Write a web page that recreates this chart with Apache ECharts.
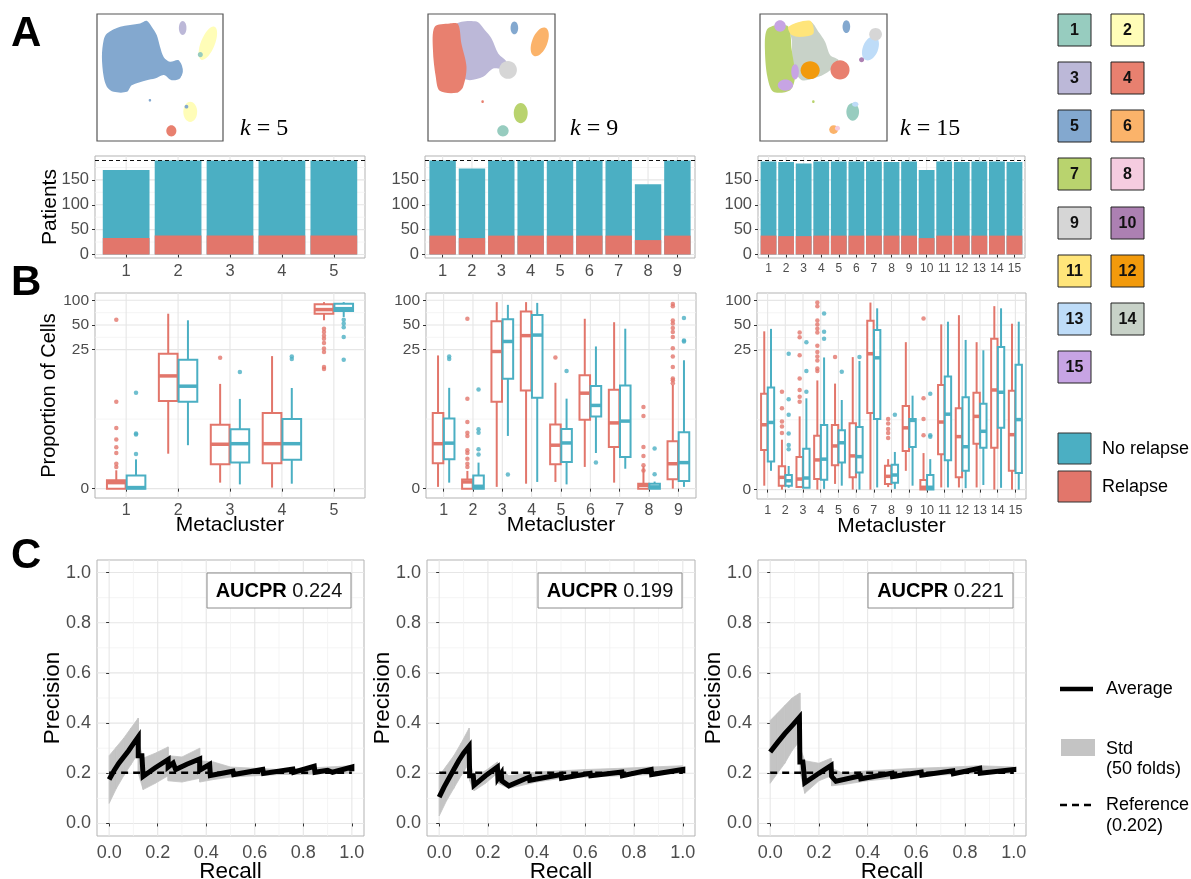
<!DOCTYPE html>
<html>
<head>
<meta charset="utf-8">
<script src="https://cdn.jsdelivr.net/npm/echarts@6/dist/echarts.min.js"></script>
<style>
  html, body { margin: 0; padding: 0; background: #fff; }
  #chart { width: 1191px; height: 879px; }
</style>
</head>
<body>
<div id="chart"></div>
<script>
// ---------- data ----------
const clusterColors = ['#97CCBF', '#FFFDB8', '#BCB8D8', '#E8806F', '#83A8CF', '#FBB36A', '#B9D36E', '#F5CCE0',
  '#D6D6D6', '#AC80B2', '#FFE57A', '#F29A0C', '#BEDCF8', '#C8D2C8', '#C7A4E4'];
const relapseColor = '#E2766B';
const noRelapseColor = '#4BAFC3';
const kValues = [5, 9, 15];
const aucpr = ['0.224', '0.199', '0.221'];
const referencePrecision = 0.202;
const patientsTotal = 189;

// A: patients per metacluster (total bar height and relapse part)
const barsK5Total = [170, 189, 189, 189, 189];
const barsK5Relapse = [33, 38, 38, 38, 38];
const barsK9Total = [189, 173, 189, 189, 189, 189, 189, 141, 189];
const barsK9Relapse = [38, 33, 38, 38, 38, 38, 38, 29, 38];
const barsK15Total = [187, 186, 183, 187, 187, 187, 187, 186, 187, 170, 187, 186, 187, 187, 186];
const barsK15Relapse = [38, 37, 37, 38, 38, 38, 38, 38, 38, 33, 38, 38, 38, 38, 38];

// UMAP thumbnails: outlined regions [cluster, points] and blobs [x, y, rx, ry, rotationDeg, cluster]
const umapK5Regions = [
  [5, [[7.9, 84.7], [18.4, 90], [34.2, 92.6], [39.5, 94.7], [43.4, 90], [47.4, 83.4], [50, 74.2], [53, 66],
    [57.9, 62.4], [64.5, 63.7], [67.9, 57.1], [65.8, 49.2], [59.2, 47.9], [53, 52], [46, 49.2],
    [39.5, 47.9], [27.6, 43.9], [23.7, 38.7], [13.2, 38.7], [7.9, 42.6], [5.3, 50.5], [3.9, 66.3], [5.3, 79.5]]]
];
const umapK5Blobs = [
  [62, 55, 6, 6.5, 0, 5], [68, 89, 3, 5.5, 0, 3], [88, 77, 5.5, 14, -22, 2], [82, 68, 2, 2, 0, 1],
  [74, 23, 5.5, 8, 0, 2], [71, 27, 1.5, 1.5, 0, 5], [59, 8, 4, 4.5, 0, 4], [42, 32, 1, 1, 0, 5]
];
const umapK9Regions = [
  [3, [[22.4, 92], [38.2, 94], [44.7, 87.4], [50, 80.8], [55.3, 68.9], [61.8, 62.4], [59.2, 57.1], [51.3, 57.1],
    [43.4, 50.5], [32.9, 47.9], [26.3, 50.5], [25, 76.8]]],
  [4, [[5.3, 90], [17.1, 92.6], [23.7, 92], [26.3, 76.8], [30.3, 58.4], [27.6, 42.6], [22.4, 37.9], [9.2, 39.5],
    [6.1, 50.5], [3.9, 71.6]]]
];
const umapK9Blobs = [
  [63, 56, 7, 7, 0, 9], [68, 89, 3, 5, 0, 5], [88, 78, 6, 12, -22, 6], [73, 22, 5.5, 8, 0, 7],
  [59, 8, 4.5, 4.5, 0, 1], [43, 31, 1, 1, 0, 4]
];
const umapK15Regions = [
  [14, [[23.7, 90], [39.5, 94], [46, 86], [51.3, 78], [55.3, 67.6], [61.8, 63.7], [55.3, 55.8], [46, 50.5],
    [32.9, 47.9], [26.3, 58.4], [25, 79.5]]],
  [7, [[5.3, 87.4], [13.2, 91.3], [22.4, 90], [25, 71.6], [27.6, 50.5], [23.7, 40], [10.5, 38.7], [5.8, 50.5],
    [3.9, 71.6]]],
  [11, [[22.4, 90], [39.5, 94.7], [42.1, 84.7], [32.9, 82], [25, 83.4]]]
];
const umapK15Blobs = [
  [15.8, 90.5, 4.5, 4.5, 0, 15], [20, 44, 6, 4.5, 0, 15], [27.6, 54.5, 3, 6, 0, 15], [39.5, 55.8, 7.5, 7, 0, 12],
  [63, 56, 7.5, 7.5, 0, 4], [68, 90, 3, 5, 0, 5], [87, 73, 6, 10, -22, 13], [91, 84, 5, 5, 0, 9],
  [80, 64, 2, 2, 0, 10], [73, 23, 5, 7, 0, 1], [75, 29, 2.5, 2, 0, 13], [58, 9, 3.5, 3.5, 0, 6],
  [61, 10, 2, 2, 0, 8], [42, 31, 1, 1, 0, 7]
];

// B: proportion of cells (%), box stats [min, q1, median, q3, max] + outliers
const boxK5Relapse = [[0, 0, 0.17, 0.24, 0.54], [1.15, 5.84, 11.9, 22.3, 68.6], [0.17, 0.74, 1.6, 2.93, 9.5],
  [0.03, 0.78, 1.63, 4.15, 20.8], [57, 68.6, 77, 89.5, 95]];
const outK5Relapse = [[0.65, 0.76, 1.18, 1.45, 1.87, 2.67, 5.7, 57.8], [], [19.9], [],
  [45, 41, 37, 34, 30, 25.7, 23.4, 15.3, 14.5]];
const boxK5NoRelapse = [[0, 0, 0.03, 0.38, 0.92], [1.55, 5.7, 8.9, 18.8, 57], [0.12, 0.8, 1.63, 2.56, 6.2],
  [0.14, 0.91, 1.63, 3.48, 8.45], [62.6, 74, 79, 91, 95]];
const outK5NoRelapse = [[1.14, 2.18, 2.26, 7.4], [], [13.3], [20.6, 19.2], [58, 52, 47, 35.7, 18.8]];

const boxK9Relapse = [[0.05, 0.78, 1.63, 4.15, 21.2], [0, 0, 0.19, 0.26, 0.52], [0.05, 5.7, 23.7, 55.3, 95],
  [0.14, 7.87, 37, 73, 95], [0.19, 0.74, 1.55, 2.96, 9.8], [0.65, 3.4, 7.3, 12.1, 59.5],
  [0.17, 1.46, 3.1, 8.05, 54], [0, 0, 0.094, 0.14, 0.67], [0, 0.27, 0.76, 1.76, 9.2]];
const outK9Relapse = [[], [59.5, 6.25, 3.18, 2.31, 2.09, 1.3, 1.18, 0.94, 0.76, 0.65], [], [], [20], [], [],
  [4.93, 3.8, 1.46, 1.05, 0.71, 0.53], [90, 84.5, 56.7, 52, 46, 41, 35.7, 26, 20.6, 15.3, 11.1, 10.5, 9.7]];
const boxK9NoRelapse = [[0.17, 0.92, 1.66, 3.52, 8.5], [0, 0, 0.066, 0.38, 0.8], [2.09, 11, 31.4, 58.5, 88],
  [0.19, 6.4, 37.6, 66, 93], [0.12, 0.82, 1.67, 2.59, 6.25], [1.18, 3.75, 5.15, 8.95, 27.3],
  [0.59, 1.01, 3.27, 9.1, 45], [0, 0, 0.05, 0.14, 0.2], [0.05, 0.22, 0.8, 2.34, 18.5]];
const outK9NoRelapse = [[20.5, 19.2], [8.1, 2.56, 2.31, 1.35, 1.12], [0.41], [], [13.7], [0.8], [],
  [1.38, 0.42], [61, 32.3, 31.4]];

const boxK15Relapse = [[0.11, 1.35, 2.99, 7.3, 42], [0, 0.11, 0.35, 0.7, 1.9], [0.05, 0.07, 0.3, 1.04, 3.82],
  [0, 0.3, 0.93, 2.15, 10.6], [0.16, 0.74, 1.55, 2.96, 9.7], [0, 0.35, 1.09, 3.12, 20.4],
  [0, 4.2, 22.4, 56.5, 94], [0.07, 0.16, 0.38, 0.72, 0.96], [0.55, 1.3, 2.73, 5.15, 31],
  [0, 0, 0.065, 0.27, 1.21], [0.06, 1.16, 3.24, 9.3, 51], [0.06, 0.35, 2.09, 4.84, 66],
  [0.06, 1.67, 3.82, 7.5, 31], [0, 1.46, 8.1, 34, 85], [0, 0.55, 2.22, 7.9, 52]];
const outK15Relapse = [[], [7.7, 4.84, 3.3, 2.85, 2.34], [40.7, 35.5, 21.5, 11.2, 8.1, 6.7, 5.8],
  [94, 85, 57, 51, 45, 40.7, 28, 23.5, 20.8, 18.6, 14.8, 13.8], [20.4], [], [],
  [3.55, 3.1, 2.64, 2.34, 2.01], [], [60, 6.4, 3.54, 2.18], [], [], [], [], []];
const boxK15NoRelapse = [[0.55, 0.87, 3.2, 8.7, 45], [0.05, 0.11, 0.25, 0.42, 0.71], [0.05, 0.05, 0.33, 1.41, 6.4],
  [0.02, 0.28, 0.96, 2.96, 20.2], [0.11, 0.83, 1.72, 2.53, 6.1], [0, 0.5, 1.06, 2.79, 18.3],
  [0.06, 3.54, 20, 43.7, 80], [0.02, 0.19, 0.42, 0.75, 1.26], [0.11, 1.5, 3.4, 3.54, 6.9],
  [0, 0, 0.065, 0.42, 0.96], [0.06, 0.92, 4.07, 11.8, 55], [0.04, 0.55, 1.51, 6.6, 33],
  [0.13, 1.46, 2.46, 5.5, 24.7], [0.05, 2.73, 7.6, 27, 80], [0, 0.48, 3.48, 16.5, 55]];
const outK15NoRelapse = [[], [22.4, 6.25, 4, 2.3, 1.6, 1.39], [31, 13.8, 7.7], [69, 41.5, 34], [13.5], [20.4], [],
  [4], [], [7.3, 2.18, 2.09], [], [], [], [], []];
const proportionTicks = [0, 25, 50, 100];

// C: precision-recall curves (average) and std band
const prK5Recall = [0, 0.02, 0.04, 0.06, 0.08, 0.1, 0.12, 0.12, 0.135, 0.14, 0.19, 0.243, 0.243, 0.264, 0.274, 0.32,
  0.373, 0.373, 0.414, 0.417, 0.51, 0.513, 0.633, 0.636, 0.757, 0.76, 0.845, 0.848, 0.9, 0.92, 1, 1];
const prK5Precision = [0.175, 0.21, 0.24, 0.265, 0.29, 0.318, 0.345, 0.27, 0.27, 0.188, 0.222, 0.255, 0.225, 0.241,
  0.215, 0.236, 0.257, 0.212, 0.235, 0.191, 0.208, 0.195, 0.215, 0.199, 0.217, 0.204, 0.228, 0.204, 0.212, 0.204,
  0.225, 0.208];
const bandK5Recall = [0, 0.03, 0.06, 0.09, 0.12, 0.12, 0.14, 0.19, 0.243, 0.243, 0.3, 0.373, 0.373, 0.43, 0.5, 0.6,
  0.7, 0.8, 0.9, 1];
const bandK5Lower = [0.08, 0.14, 0.19, 0.235, 0.28, 0.2, 0.135, 0.16, 0.19, 0.17, 0.165, 0.18, 0.165, 0.175, 0.185,
  0.19, 0.195, 0.195, 0.2, 0.2];
const bandK5Upper = [0.27, 0.305, 0.34, 0.38, 0.42, 0.33, 0.26, 0.28, 0.305, 0.27, 0.265, 0.3, 0.25, 0.245, 0.225,
  0.22, 0.215, 0.22, 0.225, 0.23];

const prK9Recall = [0, 0.02, 0.04, 0.06, 0.08, 0.1, 0.123, 0.125, 0.14, 0.143, 0.19, 0.239, 0.241, 0.255, 0.257,
  0.286, 0.37, 0.372, 0.5, 0.502, 0.62, 0.622, 0.75, 0.752, 0.87, 0.872, 1, 1];
const prK9Precision = [0.105, 0.145, 0.18, 0.215, 0.25, 0.28, 0.308, 0.19, 0.19, 0.152, 0.19, 0.225, 0.18, 0.2,
  0.17, 0.15, 0.185, 0.172, 0.195, 0.18, 0.2, 0.19, 0.205, 0.19, 0.215, 0.195, 0.215, 0.2];
const bandK9Recall = [0, 0.03, 0.06, 0.09, 0.123, 0.125, 0.143, 0.19, 0.239, 0.241, 0.286, 0.4, 0.5, 0.6, 0.75,
  0.87, 1];
const bandK9Lower = [0.03, 0.09, 0.14, 0.19, 0.24, 0.17, 0.13, 0.16, 0.2, 0.16, 0.14, 0.165, 0.18, 0.185, 0.19,
  0.195, 0.2];
const bandK9Upper = [0.19, 0.23, 0.27, 0.32, 0.38, 0.25, 0.19, 0.21, 0.245, 0.225, 0.19, 0.205, 0.21, 0.215, 0.22,
  0.225, 0.23];

const prK15Recall = [0, 0.03, 0.06, 0.09, 0.12, 0.122, 0.134, 0.136, 0.14, 0.142, 0.2, 0.25, 0.252, 0.27, 0.37,
  0.372, 0.5, 0.502, 0.62, 0.622, 0.75, 0.752, 0.86, 0.862, 1, 1];
const prK15Precision = [0.285, 0.322, 0.358, 0.39, 0.423, 0.245, 0.245, 0.228, 0.228, 0.162, 0.2, 0.231, 0.188,
  0.168, 0.19, 0.178, 0.2, 0.187, 0.205, 0.192, 0.21, 0.198, 0.22, 0.2, 0.215, 0.205];
const bandK15Recall = [0, 0.03, 0.06, 0.09, 0.122, 0.124, 0.142, 0.2, 0.25, 0.252, 0.3, 0.4, 0.5, 0.6, 0.75, 0.86, 1];
const bandK15Lower = [0.16, 0.2, 0.24, 0.29, 0.33, 0.2, 0.12, 0.17, 0.19, 0.15, 0.155, 0.17, 0.18, 0.19, 0.195,
  0.2, 0.2];
const bandK15Upper = [0.41, 0.44, 0.47, 0.5, 0.52, 0.3, 0.25, 0.24, 0.26, 0.22, 0.2, 0.21, 0.215, 0.22, 0.225,
  0.23, 0.225];
const prTicks = [0, 0.2, 0.4, 0.6, 0.8, 1];
const prMinor = [0.1, 0.3, 0.5, 0.7, 0.9];

// ---------- helpers ----------
const FONT = '"Liberation Sans", Arial, Helvetica, sans-serif';
const SERIF = '"Liberation Serif", "DejaVu Serif", serif';
const BOX_W = 0.36;
const DODGE = 0.19;

const grids = [
  { left: 95, top: 156, width: 270, height: 102 },
  { left: 425, top: 156, width: 270, height: 102 },
  { left: 758, top: 156, width: 267, height: 102 },
  { left: 97, top: 14, width: 126, height: 127 },
  { left: 428, top: 14, width: 127, height: 127 },
  { left: 760, top: 14, width: 127, height: 127 },
  { left: 95, top: 293, width: 270, height: 205 },
  { left: 426, top: 293, width: 270, height: 205 },
  { left: 757, top: 293, width: 269, height: 206 },
  { left: 97, top: 560, width: 267, height: 276 },
  { left: 427, top: 560, width: 268, height: 276 },
  { left: 758, top: 560, width: 268, height: 276 }
].map((g, i) => Object.assign({
  show: true,
  containLabel: false,
  outerBoundsMode: 'none',
  borderColor: (i >= 3 && i <= 5) ? '#555' : '#b3b3b3',
  borderWidth: (i >= 3 && i <= 5) ? 1.2 : 1,
  backgroundColor: 'transparent'
}, g));

function range(n) { return Array.from({ length: n }, (_, i) => i + 1); }

function axis(gi, min, max, ticks, fmt, fs, margin, name, nameGap, nameSize) {
  return {
    type: 'value', gridIndex: gi, min, max,
    axisLine: { show: false },
    axisTick: { show: true, length: 3, customValues: ticks, lineStyle: { color: '#333', width: 1 } },
    axisLabel: { customValues: ticks, formatter: fmt, fontSize: fs, color: '#4d4d4d', fontFamily: FONT, margin },
    splitLine: { show: false },
    name: name || '', nameLocation: 'middle', nameGap: nameGap || 0, nameMoveOverlap: false,
    nameTextStyle: { fontSize: nameSize || 20, color: '#000', fontFamily: FONT }
  };
}
function hiddenAxis(gi) {
  return { type: 'value', gridIndex: gi, min: 0, max: 100, show: false, splitLine: { show: false } };
}

function renderGridLine(params, api) {
  const cs = params.coordSys;
  const v = api.value(0), vert = api.value(1), minor = api.value(2);
  const style = { stroke: minor ? '#f3f3f3' : '#e6e6e6', lineWidth: minor ? 0.8 : 1.1 };
  if (vert) {
    const x = api.coord([v, 0])[0];
    return { type: 'line', shape: { x1: x, y1: cs.y, x2: x, y2: cs.y + cs.height }, style };
  }
  const y = api.coord([0, v])[1];
  return { type: 'line', shape: { x1: cs.x, y1: y, x2: cs.x + cs.width, y2: y }, style };
}
function gridSeries(gi, hMajor, hMinor, vMajor, vMinor) {
  const data = [];
  hMajor.forEach(v => data.push([v, 0, 0]));
  hMinor.forEach(v => data.push([v, 0, 1]));
  vMajor.forEach(v => data.push([v, 1, 0]));
  (vMinor || []).forEach(v => data.push([v, 1, 1]));
  return { type: 'custom', xAxisIndex: gi, yAxisIndex: gi, z: 0, silent: true, renderItem: renderGridLine, data };
}

function barSeries(gi, totals, relapse) {
  const g = grids[gi];
  const bw = g.width / (totals.length + 0.2) * 0.9;
  return [{
    type: 'bar', xAxisIndex: gi, yAxisIndex: gi, barWidth: bw, barGap: '-100%', z: 2, silent: true,
    itemStyle: { color: noRelapseColor },
    data: totals.map((v, i) => [i + 1, v]),
    markLine: {
      symbol: 'none', silent: true, label: { show: false },
      lineStyle: { type: [4, 3], color: '#111', width: 1 },
      data: [{ yAxis: patientsTotal }]
    }
  }, {
    type: 'bar', xAxisIndex: gi, yAxisIndex: gi, barWidth: bw, barGap: '-100%', z: 3, silent: true,
    itemStyle: { color: relapseColor },
    data: relapse.map((v, i) => [i + 1, v])
  }];
}

function umapSeries(gi, regions, blobs) {
  return [{
    type: 'custom', xAxisIndex: gi, yAxisIndex: gi, silent: true, z: 2,
    data: regions.map((r, i) => [i]),
    renderItem: (params, api) => {
      const reg = regions[api.value(0)];
      return {
        type: 'polygon', shape: { points: reg[1].map(p => api.coord(p)), smooth: 0.3 },
        style: { fill: clusterColors[reg[0] - 1] }
      };
    }
  }, {
    type: 'custom', xAxisIndex: gi, yAxisIndex: gi, silent: true, data: blobs, z: 3,
    renderItem: (params, api) => {
      const c = api.coord([api.value(0), api.value(1)]);
      const s = api.size([api.value(2), api.value(3)]);
      return {
        type: 'ellipse', x: c[0], y: c[1], rotation: api.value(4) * Math.PI / 180,
        shape: { cx: 0, cy: 0, rx: s[0], ry: s[1] },
        style: { fill: clusterColors[api.value(5) - 1] }
      };
    }
  }];
}

function renderBox(params, api) {
  const x = api.value(0);
  const p = [1, 2, 3, 4, 5].map(i => api.coord([x, api.value(i)]));
  const w = api.size([BOX_W, 0])[0];
  const color = api.visual('color');
  const cx = p[0][0];
  return {
    type: 'group', children: [
      { type: 'line', shape: { x1: cx, y1: p[0][1], x2: cx, y2: p[1][1] }, style: { stroke: color, lineWidth: 2 } },
      { type: 'line', shape: { x1: cx, y1: p[3][1], x2: cx, y2: p[4][1] }, style: { stroke: color, lineWidth: 2 } },
      { type: 'rect', shape: { x: cx - w / 2, y: p[3][1], width: w, height: p[1][1] - p[3][1] },
        style: { fill: '#fff', stroke: color, lineWidth: 2 } },
      { type: 'line', shape: { x1: cx - w / 2, y1: p[2][1], x2: cx + w / 2, y2: p[2][1] },
        style: { stroke: color, lineWidth: 3.5 } }
    ]
  };
}
function boxSeries(gi, stats, outs, offset, color) {
  const pts = [];
  outs.forEach((list, i) => list.forEach(v => pts.push([i + 1 + offset, Math.asinh(v)])));
  return [{
    type: 'custom', xAxisIndex: gi, yAxisIndex: gi, z: 3, silent: true,
    itemStyle: { color }, renderItem: renderBox,
    data: stats.map((s, i) => [i + 1 + offset].concat(s.map(Math.asinh)))
  }, {
    type: 'scatter', xAxisIndex: gi, yAxisIndex: gi, z: 3, silent: true, symbolSize: 4.5,
    itemStyle: { color }, data: pts
  }];
}

function prSeries(gi, recall, precision, bandR, bandLo, bandHi) {
  const band = [];
  for (let i = 0; i < bandR.length - 1; i++) {
    band.push([bandR[i], bandLo[i], bandHi[i], bandR[i + 1], bandLo[i + 1], bandHi[i + 1]]);
  }
  return [{
    type: 'custom', xAxisIndex: gi, yAxisIndex: gi, z: 1, silent: true, data: band,
    renderItem: (params, api) => {
      const a = api.coord([api.value(0), api.value(1)]);
      const b = api.coord([api.value(3), api.value(4)]);
      const c = api.coord([api.value(3), api.value(5)]);
      const d = api.coord([api.value(0), api.value(2)]);
      return { type: 'polygon', shape: { points: [a, b, c, d] },
        style: { fill: '#c4c4c4', stroke: '#c4c4c4', lineWidth: 0.8 } };
    }
  }, {
    type: 'line', xAxisIndex: gi, yAxisIndex: gi, z: 2, silent: true, symbol: 'none',
    lineStyle: { color: '#000', width: 2.5, type: [7, 5] },
    data: [[0, referencePrecision], [1, referencePrecision]]
  }, {
    type: 'line', xAxisIndex: gi, yAxisIndex: gi, z: 3, silent: true, symbol: 'none',
    lineStyle: { color: '#000', width: 5, join: 'miter' },
    data: recall.map((r, i) => [r, precision[i]])
  }];
}

// ---------- axes ----------
const intFmt = v => String(Math.round(v));
const asinhFmt = v => String(Math.round(Math.sinh(v)));
const prFmt = v => v.toFixed(1);
const patTicks = [0, 50, 100, 150];
const propT = proportionTicks.map(Math.asinh);
const propMinor = [0, 1, 2].map(i => (propT[i] + propT[i + 1]) / 2);

const xAxes = [], yAxes = [];
const barSets = [[barsK5Total, barsK5Relapse], [barsK9Total, barsK9Relapse], [barsK15Total, barsK15Relapse]];
barSets.forEach((b, i) => {
  const n = b[0].length;
  xAxes.push(axis(i, 0.4, n + 0.6, range(n), intFmt, n > 10 ? 12 : 16.5, 5));
  yAxes.push(axis(i, -7, 198, patTicks, intFmt, 16.5, 6, i === 0 ? 'Patients' : '', 34, 21));
});
[3, 4, 5].forEach(gi => { xAxes.push(hiddenAxis(gi)); yAxes.push(hiddenAxis(gi)); });
[boxK5Relapse, boxK9Relapse, boxK15Relapse].forEach((b, i) => {
  const n = b.length;
  xAxes.push(axis(6 + i, 0.4, n + 0.6, range(n), intFmt, n > 10 ? 12.5 : 16, 5, 'Metacluster', 17, 21));
  yAxes.push(axis(6 + i, -0.263, 5.504, propT, asinhFmt, 15.5, 6, i === 0 ? 'Proportion of Cells' : '', 36, 20));
});
[0, 1, 2].forEach(i => {
  xAxes.push(axis(9 + i, -0.05, 1.05, prTicks, prFmt, 18, 8, 'Recall', 24, 22.5));
  yAxes.push(axis(9 + i, -0.05, 1.05, prTicks, prFmt, 18, 6, 'Precision', 33, 22.5));
});

// ---------- series ----------
const series = [];
barSets.forEach((b, i) => {
  const n = b[0].length;
  series.push(gridSeries(i, patTicks, [25, 75, 125, 175], range(n)));
  series.push(...barSeries(i, b[0], b[1]));
});
series.push(...umapSeries(3, umapK5Regions, umapK5Blobs));
series.push(...umapSeries(4, umapK9Regions, umapK9Blobs));
series.push(...umapSeries(5, umapK15Regions, umapK15Blobs));
const boxSets = [
  [boxK5Relapse, outK5Relapse, boxK5NoRelapse, outK5NoRelapse],
  [boxK9Relapse, outK9Relapse, boxK9NoRelapse, outK9NoRelapse],
  [boxK15Relapse, outK15Relapse, boxK15NoRelapse, outK15NoRelapse]
];
boxSets.forEach((b, i) => {
  series.push(gridSeries(6 + i, propT, propMinor, range(b[0].length)));
  series.push(...boxSeries(6 + i, b[0], b[1], -DODGE, relapseColor));
  series.push(...boxSeries(6 + i, b[2], b[3], DODGE, noRelapseColor));
});
const prSets = [
  [prK5Recall, prK5Precision, bandK5Recall, bandK5Lower, bandK5Upper],
  [prK9Recall, prK9Precision, bandK9Recall, bandK9Lower, bandK9Upper],
  [prK15Recall, prK15Precision, bandK15Recall, bandK15Lower, bandK15Upper]
];
prSets.forEach((p, i) => {
  series.push(gridSeries(9 + i, prTicks, prMinor, prTicks, prMinor));
  series.push(...prSeries(9 + i, p[0], p[1], p[2], p[3], p[4]));
});

// ---------- annotations and legends ----------
const graphic = [];
function txt(x, y, text, size, opts) {
  graphic.push({
    type: 'text', x, y, silent: true,
    style: Object.assign({
      text, fontSize: size, fontFamily: FONT, fill: '#000',
      align: 'left', verticalAlign: 'middle', textAlign: 'left', textVerticalAlign: 'middle'
    }, opts || {})
  });
}
txt(11, 34, 'A', 42, { fontWeight: 'bold' });
txt(11, 283, 'B', 42, { fontWeight: 'bold' });
txt(11, 556, 'C', 42, { fontWeight: 'bold' });

const kLabelX = [240, 570, 900];
kValues.forEach((k, i) => {
  txt(kLabelX[i], 129, '{i|k} = ' + k, 24, {
    fontFamily: SERIF,
    rich: { i: { fontStyle: 'italic', fontSize: 24, fontFamily: SERIF } }
  });
});

const aucBoxes = [[207, 573, 144, 35], [538, 573, 144, 35], [868, 573, 145, 35]];
aucBoxes.forEach((b, i) => {
  graphic.push({ type: 'rect', silent: true, shape: { x: b[0], y: b[1], width: b[2], height: b[3] },
    style: { fill: '#fff', stroke: '#8c8c8c', lineWidth: 1 }, z: 100 });
  graphic.push({
    type: 'text', silent: true, x: b[0] + b[2] / 2, y: b[1] + b[3] / 2 + 1, z: 101,
    style: {
      text: '{b|AUCPR} {r|' + aucpr[i] + '}', fontSize: 20, fontFamily: FONT,
      align: 'center', verticalAlign: 'middle', textAlign: 'center', textVerticalAlign: 'middle',
      rich: {
        b: { fontWeight: 'bold', fontSize: 20, fontFamily: FONT, fill: '#000' },
        r: { fontSize: 20, fontFamily: FONT, fill: '#111' }
      }
    }
  });
});

const legendRowTop = [14, 62, 110, 158, 207, 255, 303, 351];
clusterColors.forEach((c, i) => {
  const row = Math.floor(i / 2), col = i % 2;
  const x = col ? 1111 : 1058, y = legendRowTop[row];
  graphic.push({ type: 'rect', silent: true, shape: { x, y, width: 33, height: 32 },
    style: { fill: c, stroke: '#222', lineWidth: 1 } });
  txt(x + 16.5, y + 16.5, String(i + 1), 16, { fontWeight: 'bold', align: 'center', textAlign: 'center', fill: '#111' });
});

graphic.push({ type: 'rect', silent: true, shape: { x: 1058, y: 433, width: 33, height: 31 },
  style: { fill: noRelapseColor, stroke: '#333', lineWidth: 1 } });
txt(1102, 449, 'No relapse', 18);
graphic.push({ type: 'rect', silent: true, shape: { x: 1058, y: 471, width: 33, height: 31 },
  style: { fill: relapseColor, stroke: '#333', lineWidth: 1 } });
txt(1102, 487, 'Relapse', 18);

graphic.push({ type: 'line', silent: true, shape: { x1: 1060, y1: 689, x2: 1093, y2: 689 },
  style: { stroke: '#000', lineWidth: 4.5 } });
txt(1106, 689, 'Average', 18);
graphic.push({ type: 'rect', silent: true, shape: { x: 1061, y: 739, width: 34, height: 17 },
  style: { fill: '#c4c4c4' } });
txt(1106, 749, 'Std', 18);
txt(1106, 769, '(50 folds)', 18);
graphic.push({ type: 'line', silent: true, shape: { x1: 1060, y1: 805, x2: 1093, y2: 805 },
  style: { stroke: '#000', lineWidth: 2.5, lineDash: [7, 5] } });
txt(1106, 805, 'Reference', 18);
txt(1106, 826, '(' + referencePrecision.toFixed(3) + ')', 18);

const chart = echarts.init(document.getElementById('chart'), null, { renderer: 'canvas' });
chart.setOption({
  animation: false,
  backgroundColor: '#fff',
  textStyle: { fontFamily: FONT },
  grid: grids,
  xAxis: xAxes,
  yAxis: yAxes,
  series,
  graphic
});
window.addEventListener('resize', () => chart.resize());
</script>
</body>
</html>
